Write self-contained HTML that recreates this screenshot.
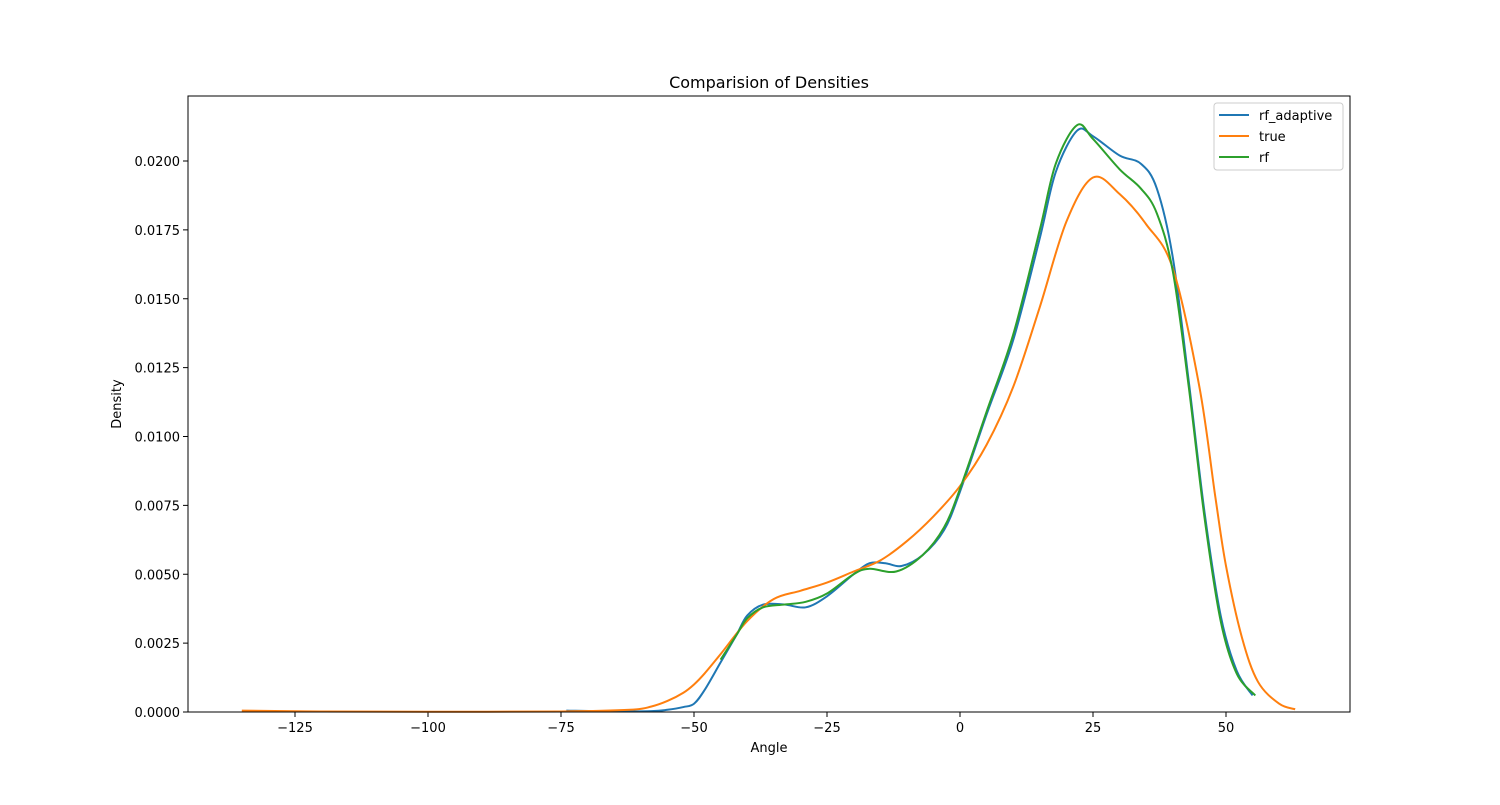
<!DOCTYPE html>
<html><head><meta charset="utf-8"><style>
body{margin:0;background:#fff;font-family:"Liberation Sans","DejaVu Sans",sans-serif}
</style></head><body>
<svg id="chart" width="1500" height="800" xmlns="http://www.w3.org/2000/svg" font-family="DejaVu Sans, Liberation Sans, sans-serif">
<rect width="1500" height="800" fill="#fff"/>
<text x="769" y="88" font-size="16" text-anchor="middle">Comparision of Densities</text>
<g id="plot"></g>
<rect x="188" y="96" width="1162" height="616" fill="none" stroke="#000" stroke-width="1"/>
<text x="769" y="752" font-size="13" text-anchor="middle">Angle</text>
<text transform="translate(121,404) rotate(-90)" font-size="13" text-anchor="middle">Density</text>
<g>
<rect x="1214" y="103" width="129" height="67" rx="3" fill="#fff" fill-opacity="0.8" stroke="#ccc"/>
<line x1="1219" y1="115" x2="1249" y2="115" stroke="#1f77b4" stroke-width="2"/>
<text x="1259" y="120" font-size="13">rf_adaptive</text>
<line x1="1219" y1="136" x2="1249" y2="136" stroke="#ff7f0e" stroke-width="2"/>
<text x="1259" y="141" font-size="13">true</text>
<line x1="1219" y1="157" x2="1249" y2="157" stroke="#2ca02c" stroke-width="2"/>
<text x="1259" y="162" font-size="13">rf</text>
</g>
</svg>
<script>
const xTicks=[-125,-100,-75,-50,-25,0,25,50];
const yTicks=[0,0.0025,0.005,0.0075,0.01,0.0125,0.015,0.0175,0.02];
const yTickLabels=["0.0000","0.0025","0.0050","0.0075","0.0100","0.0125","0.0150","0.0175","0.0200"];
const blueX=[-74,-65,-58,-55,-52,-50,-48,-45,-42,-40,-37,-33,-29,-25,-20,-17,-14,-11,-7,-3,0,5,10,15,18,22,25,30,34,37,40,43,46,49,52,55];
const blueY=[0.00005,0.00002,0.00003,0.00008,0.00018,0.0003,0.0008,0.0018,0.0028,0.0035,0.0039,0.0039,0.0038,0.0042,0.0050,0.0054,0.0054,0.0053,0.0057,0.0066,0.0080,0.0108,0.0135,0.0172,0.0196,0.0211,0.0209,0.0202,0.0199,0.0190,0.0165,0.0120,0.0072,0.0035,0.0015,0.0006];
const greenX=[-45,-42,-40,-37,-33,-29,-25,-20,-17,-12,-7,-3,0,5,10,15,18,22,25,30,34,37,40,43,46,49,52,55.5];
const greenY=[0.0019,0.0028,0.0034,0.0038,0.0039,0.0040,0.0043,0.0050,0.0052,0.0051,0.0057,0.0067,0.0081,0.0109,0.0137,0.0175,0.0199,0.0213,0.0208,0.0197,0.0190,0.0181,0.0160,0.0118,0.0070,0.0033,0.0014,0.0006];
const orangeX=[-135,-120,-100,-75,-62,-58,-55,-52,-50,-48,-45,-40,-35,-30,-25,-20,-15,-10,-5,0,5,10,15,20,25,30,35,40,45,48,50,53,56,60,63];
const orangeY=[0.00005,0.00002,0.00001,0.00002,0.00008,0.0002,0.0004,0.0007,0.0010,0.0014,0.0021,0.0033,0.0041,0.0044,0.0047,0.0051,0.0055,0.0062,0.0071,0.0082,0.0097,0.0118,0.0147,0.0178,0.0194,0.0188,0.0177,0.0161,0.0118,0.0078,0.0053,0.0027,0.0011,0.0003,0.0001];
const X0=188,X1=1350,Y0=712,Y1=96;
const xs=v=>960+v*5.32;
const ys=v=>712-v*27550;
const NS="http://www.w3.org/2000/svg";
const g=document.getElementById('plot');
function mk(t,a){const e=document.createElementNS(NS,t);for(const k in a)e.setAttribute(k,a[k]);return e;}
xTicks.forEach(t=>{
  const l=mk('line',{x1:xs(t),x2:xs(t),y1:Y0,y2:Y0+5,stroke:'#000'});
  
  
  g.appendChild(l);
  const tx=mk('text',{x:xs(t),y:Y0+20,'font-size':13,'text-anchor':'middle'});
  
  
  tx.textContent=t<0?'\u2212'+(-t):String(t);g.appendChild(tx);
});
yTicks.forEach((t,i)=>{
  const l=mk('line',{x1:X0-5,x2:X0,y1:ys(t),y2:ys(t),stroke:'#000'});
  
  
  g.appendChild(l);
  const tx=mk('text',{x:X0-8,y:ys(t)+5,'font-size':13,'text-anchor':'end'});
  
  
  tx.textContent=yTickLabels[i];g.appendChild(tx);
});
function path(X,Y){
  const p=X.map((x,i)=>[xs(x),ys(Y[i])]);
  let d='M'+p[0][0]+','+p[0][1];
  for(let i=0;i<p.length-1;i++){
    const a=p[i-1]||p[i],b=p[i],c=p[i+1],e=p[i+2]||c;
    const c1=[b[0]+(c[0]-a[0])/6,b[1]+(c[1]-a[1])/6];
    const c2=[c[0]-(e[0]-b[0])/6,c[1]-(e[1]-b[1])/6];
    d+=' C'+c1+' '+c2+' '+c;
  }
  return d;
}
[[blueX,blueY,'#1f77b4','line-rf-adaptive'],[orangeX,orangeY,'#ff7f0e','line-true'],[greenX,greenY,'#2ca02c','line-rf']].forEach(s=>{
  const p=mk('path',{d:path(s[0],s[1]),fill:'none',stroke:s[2],'stroke-width':2});
  
  
  g.appendChild(p);
});
</script>
</body></html>
